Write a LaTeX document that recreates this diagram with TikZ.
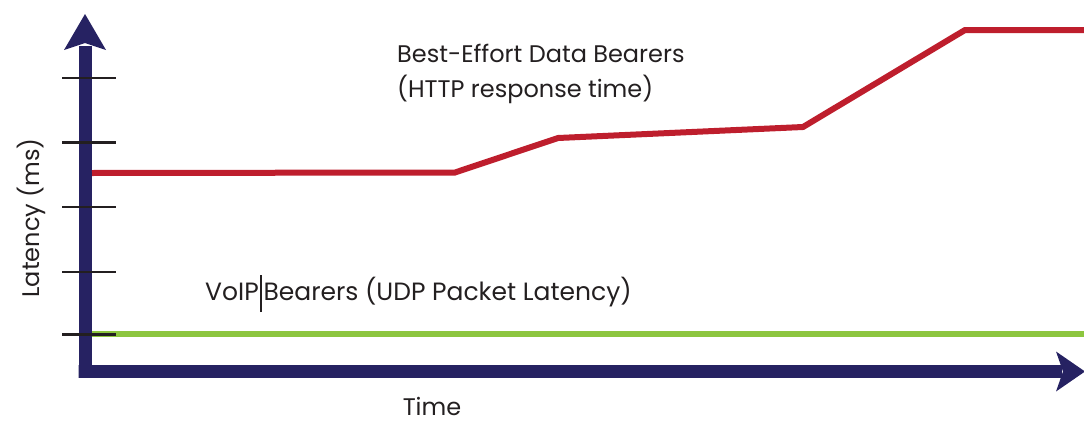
\documentclass[tikz,border=0pt]{standalone}
\usepackage{fontspec}
\setmainfont{Poppins}
\definecolor{navy}{HTML}{262262}
\definecolor{bered}{HTML}{BE1E2D}
\definecolor{voipgreen}{HTML}{8DC63F}
\definecolor{txt}{HTML}{231F20}
\begin{document}
\begin{tikzpicture}[x=1pt,y=-1pt,
  axisline/.style={draw=navy,line width=13pt,line join=miter},
  axishead/.style={fill=navy},
  tickline/.style={draw=txt,line width=2.2pt},
  redline/.style={draw=bered,line width=6pt,line join=miter},
  greenline/.style={draw=voipgreen,line width=6pt},
  lbl/.style={text=txt,inner sep=0pt,font=\fontsize{24}{35}\selectfont}]
\useasboundingbox (0,0) rectangle (1084,423);
% axes
\coordinate (O) at (85,371.5);
\coordinate (ytop) at (85,46);
\coordinate (xend) at (1062,371.5);
\draw[axisline] (xend) -- (78.5,371.5) -- (O) -- (ytop);
\draw[axisline] (O) -- (85,378);
\fill[axishead] (85,14) -- (106,50) -- (85,43) -- (64,50) -- cycle;
\fill[axishead] (1085,371.5) -- (1056,391.5) -- (1063,371.5) -- (1056,351.5) -- cycle;
% red
\coordinate (r0) at (92,173);
\coordinate (r1) at (455,172.5);
\coordinate (r2) at (558,138);
\coordinate (r3) at (803,127);
\coordinate (r4) at (965,30);
\coordinate (r5) at (1084,30);
\draw[redline] (r0) -- (r1) -- (r2) -- (r3) -- (r4) -- (r5);
% green
\coordinate (g0) at (92,334);
\coordinate (g1) at (1084,334);
\draw[greenline] (g0) -- (g1);
% ticks
\foreach \ty in {78,142.5,207,272,334.5}{
  \draw[tickline] (62,\ty) -- (116,\ty);
}
% labels
\node[lbl,anchor=base west,align=left] (best) at (397,97)
  {Best-Effort Data Bearers\\(HTTP response time)};
\node[lbl,anchor=base west,font=\fontsize{25}{30}\selectfont] (voip) at (205,300)
  {VoIP\kern1.5pt\rule[-12pt]{1.3pt}{37pt}\kern2pt Bearers (UDP Packet Latency)};
\node[lbl,anchor=base] (time) at (432,415) {Time};
\node[lbl,rotate=90,anchor=base] (lat) at (39,218) {Latency (ms)};
\end{tikzpicture}
\end{document}
